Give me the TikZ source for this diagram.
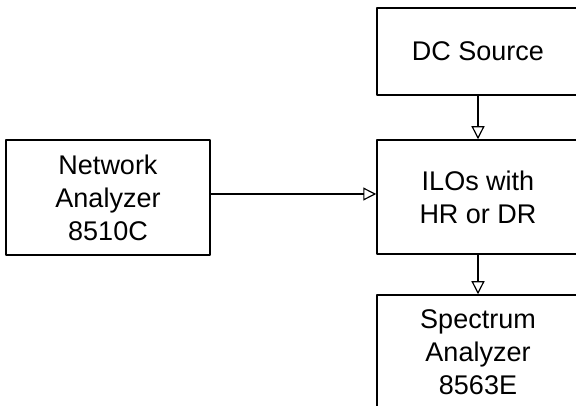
\documentclass[tikz,border=0pt]{standalone}
\usepackage{fontspec}
\setmainfont{Liberation Sans}
\usetikzlibrary{arrows.meta}
\begin{document}
\begin{tikzpicture}[x=1pt, y=-1pt, line width=1.5pt, line join=round, font=\fontsize{27}{33}\selectfont,
		>={Triangle[open, length=13pt, width=13pt, line width=1.2pt]},
		block/.style={draw, align=center, inner sep=0pt, minimum width=202pt}]
			\clip (0,0) rectangle (576,406);
			\node[block, minimum height=87pt] (dc) at (478,51.5) {DC Source};
			\node[block, minimum height=114pt] (ilo) at (478,197) {ILOs with\\HR or DR};
			\node[block, minimum height=115pt, minimum width=204pt] (na) at (108,197.5) {Network\\Analyzer\\8510C};
			\node[block, minimum height=114pt] (sa) at (478,352) {Spectrum\\Analyzer\\8563E};
			\coordinate (in) at (0,194);
			\draw[->] (na.east |- in) -- (ilo.west |- in);
			\draw[->] (dc) -- (ilo);
			\draw[->] (ilo) -- (sa);
		\end{tikzpicture}
\end{document}
